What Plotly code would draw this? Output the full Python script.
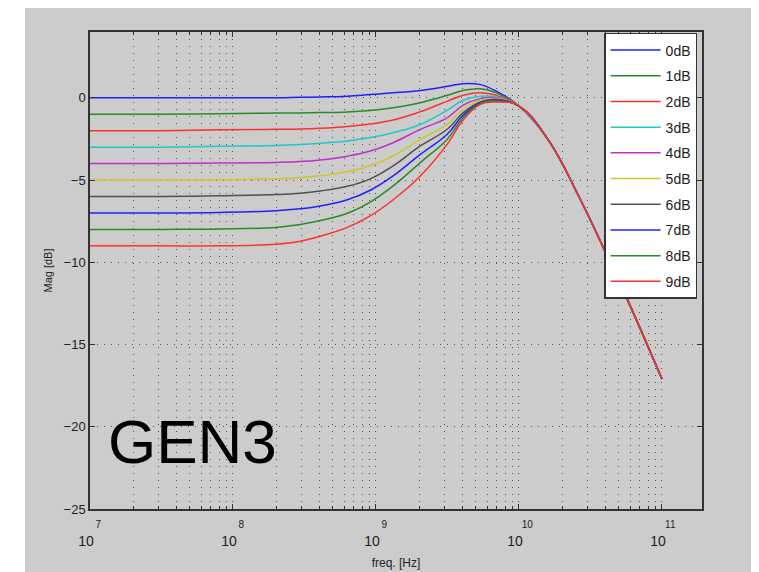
import plotly.graph_objects as go

# ---- data ----
log_freq = [7.0, 7.5, 7.9, 8.3, 8.47, 8.61, 8.8, 8.96, 9.12, 9.31, 9.5, 9.61, 9.73, 9.84,
            10.0, 10.2, 10.43, 10.6, 10.76, 11.0]
freq_hz = [10 ** v for v in log_freq]

series_names = ["0dB", "1dB", "2dB", "3dB", "4dB", "5dB", "6dB", "7dB", "8dB", "9dB"]

tail = [-0.5, -2.5, -6.2, -9.3, -12.3, -17.1]

mag_0dB = [0, 0, 0, 0, 0.03, 0.05, 0.1, 0.2, 0.3, 0.45, 0.7, 0.86, 0.8, 0.4] + tail
mag_1dB = [-1, -1, -0.97, -0.93, -0.92, -0.9, -0.86, -0.77, -0.6, -0.3, 0.15, 0.45, 0.55, 0.3] + tail
mag_2dB = [-2, -2, -1.95, -1.92, -1.9, -1.85, -1.74, -1.6, -1.35, -0.85, -0.2, 0.15, 0.3, 0.15] + tail
mag_3dB = [-3, -3, -2.95, -2.9, -2.84, -2.76, -2.62, -2.42, -2.12, -1.62, -0.75, -0.15, 0.1, 0.05] + tail
mag_4dB = [-4, -4, -3.97, -3.93, -3.88, -3.78, -3.55, -3.24, -2.73, -1.92, -1.2, -0.45, -0.05, 0.0] + tail
mag_5dB = [-5, -5, -4.99, -4.92, -4.86, -4.74, -4.5, -4.13, -3.54, -2.53, -1.6, -0.7, -0.15, -0.05] + tail
mag_6dB = [-6, -6, -5.96, -5.88, -5.8, -5.66, -5.38, -4.93, -4.14, -2.93, -1.9, -0.9, -0.25, -0.1] + tail
mag_7dB = [-7, -7, -6.97, -6.87, -6.75, -6.58, -6.2, -5.62, -4.75, -3.44, -2.2, -1.05, -0.3, -0.15] + tail
mag_8dB = [-8, -8, -7.98, -7.88, -7.7, -7.46, -7.02, -6.34, -5.36, -3.94, -2.5, -1.2, -0.35, -0.2] + tail
mag_9dB = [-9, -9, -9, -8.9, -8.72, -8.42, -7.88, -7.18, -6.2, -4.75, -2.8, -1.35, -0.4, -0.25] + tail

all_mags = [mag_0dB, mag_1dB, mag_2dB, mag_3dB, mag_4dB,
            mag_5dB, mag_6dB, mag_7dB, mag_8dB, mag_9dB]

colors = ["#2020ff", "#2a8a2a", "#ff3030", "#20c8c8", "#c030c8",
          "#c8c830", "#505050", "#2020ff", "#2a8a2a", "#ff3030"]

x_exponents = [7, 8, 9, 10, 11]
y_ticks = [-25, -20, -15, -10, -5, 0]

# ---- figure ----
fig = go.Figure()
for name, mag, col in zip(series_names, all_mags, colors):
    fig.add_trace(go.Scatter(
        x=freq_hz, y=mag, mode="lines", name=name, legendgroup=name,
        line=dict(color=col, width=1.5, shape="spline", smoothing=1.2),
    ))

tickvals = [10 ** e for e in x_exponents]
ticktext = [("<span style='font-size:10px'>&nbsp;&nbsp;&nbsp;&nbsp;&nbsp;&nbsp;%d</span>"
             "<br>10&nbsp;&nbsp;") % e for e in x_exponents]
minor_vals = [k * 10 ** d for d in range(7, 11) for k in range(2, 10)]

FONT = "Liberation Sans, Arial, sans-serif"

fig.update_layout(
    width=759, height=572,
    margin=dict(l=82, r=65, t=24, b=68),
    paper_bgcolor="white",
    plot_bgcolor="white",
    font=dict(family=FONT, size=13, color="#222222"),
    showlegend=True,
    legend=dict(
        x=0.992, y=0.998, xanchor="right", yanchor="top",
        bgcolor="white", bordercolor="#333333", borderwidth=1.5,
        font=dict(family=FONT, size=14, color="#222222"),
        tracegroupgap=4.5, itemwidth=50,
    ),
    shapes=[dict(type="rect", xref="paper", yref="paper",
                 x0=-65 / 612, x1=1.2, y0=-0.3, y1=1 + 40 / 480,
                 fillcolor="#cccccc", line=dict(width=0), layer="below")],
    annotations=[dict(text="GEN3", xref="paper", yref="paper",
                      x=(106 - 90) / 612, y=(512 - 444) / 480,
                      xanchor="left", yanchor="middle", showarrow=False,
                      font=dict(family=FONT, size=62, color="black"))],
)

fig.update_xaxes(
    type="log", range=[7, 11.28],
    tickmode="array", tickvals=tickvals, ticktext=ticktext,
    ticks="inside", ticklen=5, tickcolor="#333333",
    showline=True, linecolor="#333333", linewidth=1.5, mirror="allticks",
    showgrid=True, gridcolor="#555555", gridwidth=1, griddash="1px,6px",
    minor=dict(tickmode="array", tickvals=minor_vals, ticks="inside", ticklen=3,
               tickcolor="#333333", showgrid=True, gridcolor="#555555",
               gridwidth=1, griddash="1px,6px"),
    title=dict(text="freq. [Hz]", font=dict(size=12), standoff=11),
    tickfont=dict(size=14),
    zeroline=False,
)

fig.update_yaxes(
    range=[-25, 4], tickmode="array", tickvals=y_ticks,
    ticks="inside", ticklen=5, tickcolor="#333333",
    showline=True, linecolor="#333333", linewidth=1.5, mirror="allticks",
    showgrid=True, gridcolor="#555555", gridwidth=1, griddash="1px,6px",
    title=dict(text="Mag [dB]", font=dict(size=11), standoff=9),
    tickfont=dict(size=13),
    zeroline=False,
)

fig.write_html("out.html")
